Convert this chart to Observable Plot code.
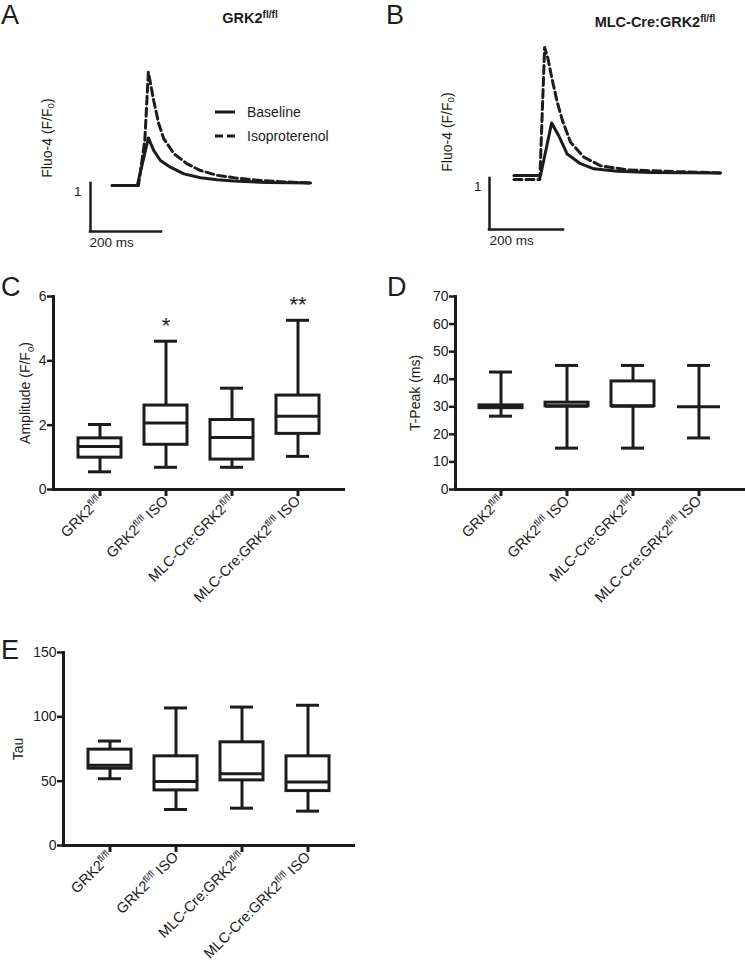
<!DOCTYPE html>
<html><head><meta charset="utf-8">
<script src="https://cdn.jsdelivr.net/npm/d3@7"></script>
<script src="https://cdn.jsdelivr.net/npm/@observablehq/plot@0.6"></script>
<style>
body{margin:0;background:#fff;}
#fig{position:relative;width:745px;height:968px;font-family:"Liberation Sans",Arial,sans-serif;color:#222;overflow:hidden;background:#fff}
.abs{position:absolute}
.letter{position:absolute;font-family:"Liberation Sans",Arial,sans-serif;font-size:27px;line-height:1;color:#1c1c1c}
.title{position:absolute;font-family:"Liberation Sans",Arial,sans-serif;font-weight:bold;font-size:14.5px;line-height:1;white-space:nowrap;transform:translateX(-50%);color:#1c1c1c}
.ylab{position:absolute;font-size:14px;line-height:1;white-space:nowrap;transform:translate(-50%,-50%) rotate(-90deg);color:#1c1c1c}
sup{font-size:0.7em;vertical-align:0.5em;line-height:0}
sub{font-size:0.7em;vertical-align:-0.25em;line-height:0}
</style></head><body><div id="fig"></div>
<script>
const INK = "#1c1c1c";
// ---------- data ----------
const groups = ["GRK2fl/fl", "GRK2fl/fl ISO", "MLC-Cre:GRK2fl/fl", "MLC-Cre:GRK2fl/fl ISO"];

// Panel A traces [time ms, F/F0]
const aBaseline = [[61,0.96],[132,0.96],[163,1.95],[178,1.69],[197,1.48],[225,1.34],[263,1.20],[310,1.12],[357,1.08],[403,1.05],[498,1.02],[620,1.01]];
const aIso = [[61,0.96],[135,0.96],[153,1.90],[163,3.32],[178,2.73],[192,2.25],[206,1.94],[235,1.62],[272,1.41],[310,1.27],[357,1.17],[404,1.12],[451,1.08],[526,1.04],[620,1.01]];
// Panel B traces
const bBaseline = [[66,1.06],[138,1.06],[168,2.09],[187,1.84],[210,1.48],[246,1.29],[282,1.19],[345,1.14],[435,1.12],[624,1.11]];
const bIso = [[66,0.98],[136,0.98],[149,3.57],[158,3.35],[169,2.95],[183,2.50],[197,2.14],[219,1.71],[255,1.42],[300,1.25],[372,1.17],[480,1.14],[624,1.11]];
// scale bars
const scaleBarTime = [0, 200];
const scaleBarF = [0, 1];
const scaleBarLabels = ["1", "200 ms"];
const legendLabels = ["Baseline", "Isoproterenol"];

// Panel C: Amplitude (F/F0)
const ampMin = [0.55, 0.69, 0.69, 1.03];
const ampQ1  = [0.99, 1.39, 0.93, 1.73];
const ampMed = [1.34, 2.07, 1.62, 2.28];
const ampQ3  = [1.59, 2.61, 2.16, 2.92];
const ampMax = [2.02, 4.61, 3.15, 5.26];
const ampStars = ["", "*", "", "**"];
const ampTicks = [0, 2, 4, 6];

// Panel D: T-Peak (ms)
const tpMin = [26.6, 15.0, 15.0, 18.7];
const tpQ1  = [29.5, 30.2, 30.2, 30.0];
const tpMed = [30.0, 30.2, 30.2, 30.0];
const tpQ3  = [30.5, 31.5, 39.2, 30.0];
const tpMax = [42.6, 45.0, 45.0, 45.0];
const tpTicks = [0, 10, 20, 30, 40, 50, 60, 70];

// Panel E: Tau
const tauMin = [51.9, 28.0, 29.0, 26.7];
const tauQ1  = [59.7, 42.8, 50.6, 42.3];
const tauMed = [62.3, 49.8, 55.8, 49.3];
const tauQ3  = [74.5, 69.3, 80.2, 69.3];
const tauMax = [81.2, 106.9, 107.6, 109.0];
const tauTicks = [0, 50, 100, 150];

// ---------- helpers ----------
const fig = document.getElementById("fig");
const NS = "http://www.w3.org/2000/svg";
function richify(svg) {
  svg.querySelectorAll("text").forEach(t => {
    const s = t.textContent;
    if (!/fl\/fl|F\/F0/.test(s)) return;
    const fs = parseFloat(t.getAttribute("font-size")) || 14;
    const parts = s.split(/(fl\/fl|F\/F0)/).filter(p => p);
    t.textContent = "";
    let pending = 0;
    for (const p of parts) {
      if (p === "fl/fl") {
        const sp = document.createElementNS(NS, "tspan");
        sp.setAttribute("font-size", (fs * 0.68).toFixed(1));
        sp.setAttribute("dy", (-fs * 0.38 - pending).toFixed(1));
        sp.textContent = "fl/fl";
        t.appendChild(sp);
        pending = -fs * 0.38;
      } else if (p === "F/F0") {
        const a = document.createElementNS(NS, "tspan");
        a.setAttribute("dy", (-pending).toFixed(1)); pending = 0;
        a.textContent = "F/F"; t.appendChild(a);
        const sb = document.createElementNS(NS, "tspan");
        sb.setAttribute("font-size", (fs * 0.68).toFixed(1));
        sb.setAttribute("dy", (fs * 0.22).toFixed(1));
        sb.textContent = "0"; t.appendChild(sb);
        pending = fs * 0.22;
      } else {
        const n = document.createElementNS(NS, "tspan");
        n.setAttribute("dy", (-pending).toFixed(1)); pending = 0;
        n.textContent = p; t.appendChild(n);
      }
    }
  });
  return svg;
}
function place(node, left, top) {
  const d = document.createElement("div");
  d.className = "abs"; d.style.left = left + "px"; d.style.top = top + "px";
  d.appendChild(node); fig.appendChild(d); return d;
}
function html(cls, inner, left, top) {
  const d = document.createElement("div");
  d.className = cls; d.innerHTML = inner;
  d.style.left = left + "px"; d.style.top = top + "px";
  fig.appendChild(d); return d;
}
const baseStyle = {fontFamily: "Liberation Sans, Arial, sans-serif", fontSize: "14px", color: INK, background: "transparent", overflow: "visible"};

// ---------- trace panels ----------
function tracePanel(base, iso, xDomain, xRange, yDomain, yRange, width, one, ms) {
  const bar = {t0: scaleBarTime[0], t1: scaleBarTime[1], f0: scaleBarF[0], f1: scaleBarF[1]};
  return Plot.plot({
    width, height: 250, style: baseStyle,
    x: {domain: xDomain, range: xRange, axis: null},
    y: {domain: yDomain, range: yRange, axis: null},
    marks: [
      Plot.ruleX([bar], {x: "t0", y1: "f0", y2: "f1", stroke: INK, strokeWidth: 2.5, strokeLinecap: "square"}),
      Plot.ruleY([bar], {y: "f0", x1: "t0", x2: "t1", stroke: INK, strokeWidth: 2.5, strokeLinecap: "square"}),
      Plot.text([bar], {x: "t0", y: "f1", text: () => scaleBarLabels[0], textAnchor: "end", dx: one[0], dy: one[1], fontSize: 13.5, fill: INK}),
      Plot.text([bar], {x: "t0", y: "f0", text: () => scaleBarLabels[1], textAnchor: "start", dx: ms[0], dy: ms[1], fontSize: 13.5, fill: INK}),
      Plot.line(iso, {x: d => d[0], y: d => d[1], stroke: INK, strokeWidth: 3, strokeDasharray: "8,4", strokeLinejoin: "round"}),
      Plot.line(base, {x: d => d[0], y: d => d[1], stroke: INK, strokeWidth: 3, strokeLinejoin: "round"})
    ]
  });
}
place(tracePanel(aBaseline, aIso, [0, 620], [90, 310.1], [0, 3.5], [231, 63], 370, [-9, 8], [-1, 11]), 0, 0);
place(tracePanel(bBaseline, bIso, [0, 624], [119, 349.9], [0, 3.6], [229, 45.4], 375, [-8, 8], [0, 11]), 370, 0);

// legend in A
const lg = document.createElementNS(NS, "svg");
lg.setAttribute("width", 140); lg.setAttribute("height", 40);
lg.innerHTML =
  `<line x1="1" y1="8" x2="21" y2="8" stroke="${INK}" stroke-width="3"/>` +
  `<line x1="1" y1="32" x2="23" y2="32" stroke="${INK}" stroke-width="3" stroke-dasharray="8,4"/>` +
  `<text x="33" y="8" dy="0.35em" font-size="14" fill="${INK}" font-family="Liberation Sans, Arial, sans-serif">${legendLabels[0]}</text>` +
  `<text x="33" y="32" dy="0.35em" font-size="14" fill="${INK}" font-family="Liberation Sans, Arial, sans-serif">${legendLabels[1]}</text>`;
place(lg, 214, 104);

html("title", "GRK2<sup>fl/fl</sup>", 250, 11);
html("title", "MLC-Cre:GRK2<sup>fl/fl</sup>", 655, 15);
html("ylab", "Fluo-4 (F/F<sub>0</sub>)", 47, 138);
html("ylab", "Fluo-4 (F/F<sub>0</sub>)", 447, 132);

// ---------- box panels ----------
function boxPanel({mins, q1, med, q3, maxs, stars, yDomain, ticks, label, labelOffset, width, height, marginTop, marginBottom, marginLeft, marginRight}) {
  const rows = groups.map((g, i) => ({g, min: mins[i], q1: q1[i], med: med[i], q3: q3[i], max: maxs[i], star: stars ? stars[i] : ""}));
  const marks = [
    Plot.ruleX(rows, {x: "g", y1: "min", y2: "q1", stroke: INK, strokeWidth: 3}),
    Plot.ruleX(rows, {x: "g", y1: "q3", y2: "max", stroke: INK, strokeWidth: 3}),
    Plot.tickY(rows, {x: "g", y: "min", stroke: INK, strokeWidth: 3, insetLeft: 10, insetRight: 10}),
    Plot.tickY(rows, {x: "g", y: "max", stroke: INK, strokeWidth: 3, insetLeft: 10, insetRight: 10}),
    Plot.barY(rows, {x: "g", y1: "q1", y2: "q3", fill: "white", stroke: INK, strokeWidth: 3}),
    Plot.tickY(rows, {x: "g", y: "med", stroke: INK, strokeWidth: 3}),
    Plot.frame({anchor: "left", stroke: INK, strokeWidth: 3}),
    Plot.frame({anchor: "bottom", stroke: INK, strokeWidth: 3}),
    Plot.axisY({ticks, tickFormat: d3.format("d"), tickSize: 6, tickPadding: 1, strokeWidth: 2.5, fontSize: 14, label, labelAnchor: "center", labelOffset, labelArrow: "none", fill: INK}),
    Plot.axisX({tickSize: 7, tickPadding: 2, tickRotate: -45, strokeWidth: 3, fontSize: 14.5, label: null, fill: INK})
  ];
  if (stars) marks.push(Plot.text(rows.filter(r => r.star), {x: "g", y: "max", text: "star", dy: -15, fontSize: 22, fill: INK}));
  return richify(Plot.plot({
    width, height, marginTop, marginBottom, marginLeft, marginRight, style: baseStyle,
    x: {type: "band", domain: groups, padding: 0.35, label: null},
    y: {domain: yDomain, label: null},
    marks
  }));
}
place(boxPanel({mins: ampMin, q1: ampQ1, med: ampMed, q3: ampQ3, maxs: ampMax, stars: ampStars, yDomain: [0, 6], ticks: ampTicks,
  label: "Amplitude (F/F0)", labelOffset: 33, width: 370, height: 334, marginTop: 16, marginBottom: 125, marginLeft: 53, marginRight: 27}), 0, 280);
place(boxPanel({mins: tpMin, q1: tpQ1, med: tpMed, q3: tpQ3, maxs: tpMax, yDomain: [0, 70], ticks: tpTicks,
  label: "T-Peak (ms)", labelOffset: 45, width: 375, height: 334, marginTop: 16, marginBottom: 125, marginLeft: 85, marginRight: 2}), 370, 280);
place(boxPanel({mins: tauMin, q1: tauQ1, med: tauMed, q3: tauQ3, maxs: tauMax, yDomain: [0, 150], ticks: tauTicks,
  label: "Tau", labelOffset: 50, width: 370, height: 328, marginTop: 12, marginBottom: 123, marginLeft: 63, marginRight: 17}), 0, 640);

// panel letters
html("letter", "A", 1, 2);
html("letter", "B", 386, 2);
html("letter", "C", 1, 274);
html("letter", "D", 387, 274);
html("letter", "E", 1, 637);
</script></body></html>
